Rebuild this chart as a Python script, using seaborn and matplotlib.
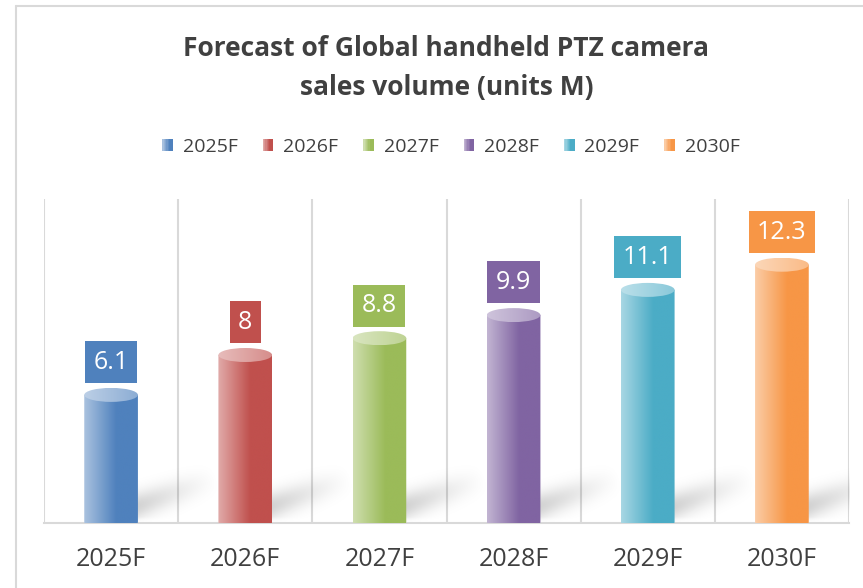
import numpy as np
import pandas as pd
import matplotlib
matplotlib.use("Agg")
import matplotlib.pyplot as plt
import seaborn as sns
from matplotlib.patches import Ellipse, PathPatch, Rectangle
from matplotlib.path import Path
from matplotlib.lines import Line2D
from matplotlib.legend_handler import HandlerBase
from matplotlib.colors import to_rgb

# ---- data ----
years = ["2025F", "2026F", "2027F", "2028F", "2029F", "2030F"]
values = [6.1, 8.0, 8.8, 9.9, 11.1, 12.3]
labels = ["6.1", "8", "8.8", "9.9", "11.1", "12.3"]
colors = ["#4F81BD", "#C0504D", "#9BBB59", "#8064A2", "#4BACC6", "#F79646"]
title_lines = ["Forecast of Global handheld PTZ camera", "sales volume (units M)"]

TEXT = "#404040"
GRID = "#d9d9d9"
FONT = "Open Sans"

sns.set_theme(style="white")
plt.rcParams["font.family"] = [FONT, "DejaVu Sans"]

W, H, DPI = 863, 588, 100
fig = plt.figure(figsize=(W / DPI, H / DPI), dpi=DPI)
ax = fig.add_axes([44 / W, 1 - 523 / H, (849 - 44) / W, (523 - 199) / H])

df = pd.DataFrame({"year": years, "value": values})
sns.barplot(data=df, x="year", y="value", hue="year", palette=colors,
            saturation=1, width=0.4, legend=False, ax=ax, zorder=3)

YMAX = 324 / 21.0
ax.set_xlim(-0.5, len(years) - 0.5)
ax.set_ylim(0, YMAX)
ax.set_xlabel("")
ax.set_ylabel("")
ax.set_yticks([])
for s in ["left", "right", "top"]:
    ax.spines[s].set_visible(False)
ax.spines["bottom"].set_color(GRID)
ax.spines["bottom"].set_linewidth(1.5)
ax.tick_params(axis="x", length=0, pad=17, labelsize=18, labelcolor=TEXT)

# vertical gridlines at category boundaries
for b in np.arange(-0.5, len(years), 1.0):
    ax.axvline(b, color=GRID, lw=1.5, zorder=1)


def mix(c, t):
    r = np.array(to_rgb(c))
    return r + (1 - r) * t


px_per_unit = 324 / YMAX
ry = 7.0 / px_per_unit  # ellipse vertical radius in data units

patches = sorted(ax.patches, key=lambda p: p.get_x())
bars = []
for p in patches:
    x0, w, h = p.get_x(), p.get_width(), p.get_height()
    col = p.get_facecolor()[:3]
    p.set_visible(False)
    bars.append((x0, w, h, col))

fig.canvas.draw()

# ---- shadows (single RGBA image over the axes) ----
bbox = ax.get_window_extent()
nx, ny = int(bbox.width), int(bbox.height)
gx, gy = np.meshgrid(np.arange(nx) + bbox.x0 + 0.5, np.arange(ny) + bbox.y0 + 0.5)
alpha = np.zeros_like(gx)
for (x0, w, h, col) in bars:
    (x1p, y0p) = ax.transData.transform((x0 + w, 0))
    S = np.array([x1p - 10, y0p + 14])
    E = np.array([x1p + 80, y0p + 46])
    d = E - S
    L = np.hypot(*d)
    u = d / L
    n = np.array([-u[1], u[0]])
    rx_, ry_ = gx - S[0], gy - S[1]
    t = (rx_ * u[0] + ry_ * u[1]) / L
    perp = rx_ * n[0] + ry_ * n[1]
    fade = np.clip(1 - t, 0, 1) ** 1.1 * np.clip((t + 0.15) / 0.15, 0, 1)
    a = 0.20 * np.exp(-(perp / 13.0) ** 2) * fade
    a *= np.clip((gy - y0p) / 6.0, 0, 1)
    alpha = np.maximum(alpha, a)
img = np.zeros((ny, nx, 4))
img[..., 3] = alpha
ax.imshow(img, extent=(-0.5, len(years) - 0.5, 0, YMAX), origin="lower",
          aspect="auto", zorder=2, interpolation="bilinear")

# ---- cylinders ----
grad_n = 200
for (x0, w, h, col) in bars:
    xc = x0 + w / 2
    x1 = x0 + w
    tt = np.linspace(0, 1, grad_n)
    k = np.clip(1 - tt / 0.6, 0, 1)
    light = mix(col, 0.52)
    base = np.array(col)
    row = light[None, :] * k[:, None] + base[None, :] * (1 - k[:, None])
    grad = row[None, :, :]
    th = np.linspace(np.pi, 2 * np.pi, 60)
    arc = np.column_stack([xc + (w / 2) * np.cos(th), 0.15 * ry + ry * np.sin(th)])
    verts = [(x0, h)] + [(x0, 0.15 * ry)] + [tuple(v) for v in arc] + [(x1, h), (x0, h)]
    codes = [Path.MOVETO] + [Path.LINETO] * (len(verts) - 2) + [Path.CLOSEPOLY]
    body = PathPatch(Path(verts, codes), facecolor="none", edgecolor="none",
                     transform=ax.transData)
    ax.add_patch(body)
    im = ax.imshow(grad, extent=(x0, x1, -ry, h), aspect="auto", zorder=3,
                   interpolation="bilinear")
    im.set_clip_path(body)
    # top ellipse
    top_light = mix(col, 0.62)
    top_dark = mix(col, 0.35)
    k2 = np.clip(1 - tt, 0, 1)
    row2 = top_light[None, :] * k2[:, None] + top_dark[None, :] * (1 - k2[:, None])
    ell = Ellipse((xc, h), w, 2 * ry, facecolor="none", edgecolor="none",
                  transform=ax.transData)
    ax.add_patch(ell)
    im2 = ax.imshow(row2[None, :, :], extent=(x0, x1, h - ry, h + ry),
                    aspect="auto", zorder=4, interpolation="bilinear")
    im2.set_clip_path(ell)

# ---- value labels ----
for (x0, w, h, col), lab in zip(bars, labels):
    ax.annotate(lab, (x0 + w / 2, h), xytext=(0, 23.5), textcoords="offset points",
                ha="center", va="center", fontsize=18, color="white", zorder=6,
                bbox=dict(boxstyle="square,pad=0.34", fc=col, ec="none"))

ax.set_xlim(-0.5, len(years) - 0.5)
ax.set_ylim(0, YMAX)

# ---- title ----
fig.text(446 / W, 1 - 48 / H, title_lines[0], ha="center", va="center",
         fontsize=19, fontweight="bold", color=TEXT)
fig.text(447 / W, 1 - 87 / H, title_lines[1], ha="center", va="center",
         fontsize=19, fontweight="bold", color=TEXT)


# ---- legend with gradient squares ----
class GradHandler(HandlerBase):
    def create_artists(self, legend, orig_handle, xdescent, ydescent, width,
                       height, fontsize, trans):
        col = orig_handle.get_color()
        arts = []
        n = 8
        for i in range(n):
            t = i / (n - 1)
            k = max(0.0, 1 - t / 0.7)
            c = mix(col, 0.5) * k + np.array(to_rgb(col)) * (1 - k)
            r = Rectangle((-xdescent + width * i / n, -ydescent), width / n + 0.3,
                          height, facecolor=c, edgecolor="none", transform=trans)
            arts.append(r)
        return arts


handles = [Line2D([], [], color=c) for c in colors]
leg = fig.legend(handles, years, handler_map={Line2D: GradHandler()},
                 loc="center", bbox_to_anchor=(451 / W, 1 - 147 / H), ncol=6,
                 frameon=False, fontsize=14, labelcolor=TEXT,
                 handlelength=0.52, handleheight=0.62, handletextpad=0.52,
                 columnspacing=1.3)

# ---- outer chart border ----
fig.add_artist(Line2D([15.5 / W, 15.5 / W], [0, 1 - 6 / H], color=GRID, lw=1.5,
                      transform=fig.transFigure))
fig.add_artist(Line2D([15.5 / W, 1], [1 - 6 / H, 1 - 6 / H], color=GRID, lw=1.5,
                      transform=fig.transFigure))

fig.savefig("out.png", dpi=DPI)
